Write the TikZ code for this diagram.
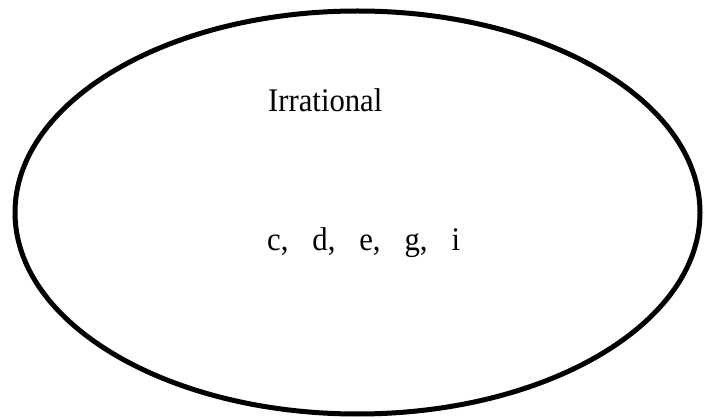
\documentclass[tikz,border=0pt]{standalone}
\usepackage{fontspec}
\usepackage{graphicx}
\setmainfont{Liberation Serif}
\usetikzlibrary{shapes.geometric}
\begin{document}
\begin{tikzpicture}[x=1pt,y=1pt,
  setshape/.style={draw=black, line width=5pt, ellipse, inner sep=0pt,
    minimum width=685pt, minimum height=403pt},
  label/.style={anchor=base west, inner sep=0pt, font=\fontsize{33}{38}\selectfont}]
\useasboundingbox (0,0) rectangle (707,418);
\node[setshape] (set) at (357.5,205.5) {};
\node[label] (title) at (268,306) {\scalebox{0.93}[1]{Irrational}};
\node[label] (members) at (267,167) {\scalebox{0.93}[1]{c,\hspace{0.78em}d,\hspace{0.78em}e,\hspace{0.78em}g,\hspace{0.78em}i}};
\end{tikzpicture}
\end{document}
